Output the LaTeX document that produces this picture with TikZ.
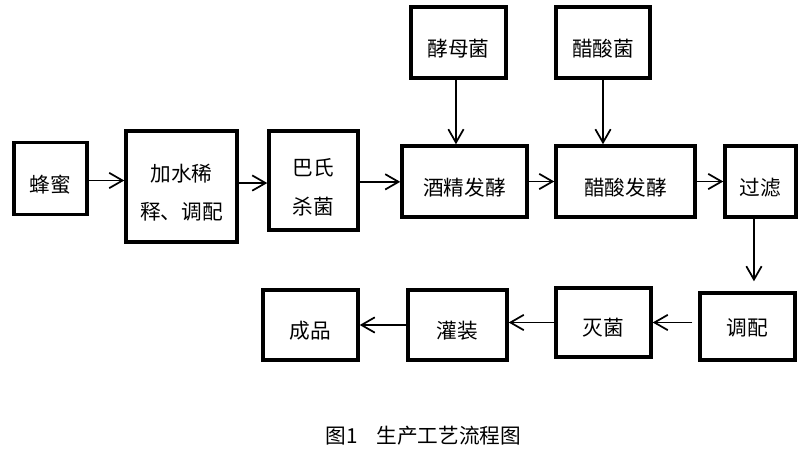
\documentclass[tikz,border=0pt]{standalone}
\usepackage{fontspec}
\setmainfont{Noto Sans CJK SC}
\usetikzlibrary{arrows.meta}
\begin{document}
\begin{tikzpicture}[x=0.75pt,y=-0.75pt,
  box/.style={draw=black, line width=2.6pt, rectangle, inner sep=0pt},
  txt/.style={inner sep=0pt, align=center, font=\fontsize{15.5pt}{29pt}\selectfont},
  arr/.style={draw=black, line width=1.3pt, -{Straight Barb[length=10pt,width=11.5pt,line width=1.3pt]}},
  captionstyle/.style={inner sep=0pt, font=\fontsize{15.5pt}{18pt}\selectfont}]
\useasboundingbox (0,0) rectangle (807,461);
\fill[white] (0,0) rectangle (807,461);
% top row
\node[box, minimum width=54.75pt, minimum height=54pt,
  label={[txt,yshift=-4.5pt]center:蜂蜜}] (honey) at (50.5,178.5) {};
\node[box, minimum width=83.25pt, minimum height=83.25pt,
  label={[txt,yshift=-4.5pt]center:加水稀\\释、调配}] (dilute) at (181.5,186.5) {};
\node[box, minimum width=66.75pt, minimum height=74.25pt,
  label={[txt,yshift=-5pt]center:巴氏\\杀菌}] (past) at (313.5,180.5) {};
\node[box, minimum width=71.25pt, minimum height=53.25pt,
  label={[txt,yshift=-4.5pt]center:酵母菌}] (yeast) at (458.5,42.5) {};
\node[box, minimum width=70.5pt, minimum height=53.25pt,
  label={[txt,yshift=-4.5pt]center:醋酸菌}] (aceto) at (603,42.5) {};
\node[box, minimum width=93.75pt, minimum height=53.25pt,
  label={[txt,yshift=-4.5pt]center:酒精发酵}] (alc) at (464.5,181.5) {};
\node[box, minimum width=104.25pt, minimum height=53.25pt,
  label={[txt,yshift=-4.5pt]center:醋酸发酵}] (acef) at (625.5,181.5) {};
\node[box, minimum width=53.25pt, minimum height=53.25pt,
  label={[txt,yshift=-4.5pt]center:过滤}] (filter) at (760.5,181.5) {};
% bottom row
\node[box, minimum width=71.25pt, minimum height=50.25pt,
  label={[txt,yshift=-0.8pt]center:调配}] (mix) at (747.5,326.5) {};
\node[box, minimum width=71.25pt, minimum height=51.75pt,
  label={[txt,yshift=-4.2pt]center:灭菌}] (steril) at (603.5,322.5) {};
\node[box, minimum width=74.25pt, minimum height=52.5pt,
  label={[txt,yshift=-4.5pt]center:灌装}] (fill) at (457.5,325) {};
\node[box, minimum width=71.25pt, minimum height=52.5pt,
  label={[txt,yshift=-4.5pt]center:成品}] (prod) at (310.5,325) {};
% caption
\node[captionstyle] (caption) at (423.5,436) {图1\hspace{14pt}生产工艺流程图};
% arrows
\draw[arr] ([yshift=-1.5pt]honey.east) -- ([yshift=-1.5pt]honey.east -| dilute.west);
\draw[arr] ([yshift=2.6pt]dilute.east) -- ([yshift=2.6pt]dilute.east -| past.west);
\draw[arr] ([yshift=-1pt]past.east) -- ([yshift=-1pt]past.east -| alc.west);
\draw[arr] (alc.east) -- (acef.west);
\draw[arr] (acef.east) -- (filter.west);
\draw[arr] ([xshift=-1.9pt]yeast.south) -- ([xshift=-1.9pt]yeast.south |- alc.north);
\draw[arr] (aceto.south) -- (aceto.south |- acef.north);
\draw[arr, shorten >=7.5pt] ([xshift=-4.9pt]filter.south) -- ([xshift=-4.9pt]filter.south |- mix.north);
\draw[arr] ([xshift=-4.5pt]mix.west |- steril) -- (steril.east);
\draw[arr] (steril.west) -- (steril.west -| fill.east);
\draw[arr] (fill.west) -- (prod.east);
\end{tikzpicture}
\end{document}
